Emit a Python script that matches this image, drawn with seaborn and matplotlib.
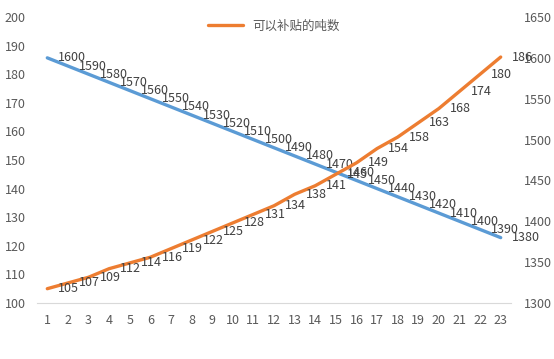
import seaborn as sns
import matplotlib.pyplot as plt
import pandas as pd

# DATA #
x = list(range(1, 24))
tons = [105, 107, 109, 112, 114, 116, 119, 122, 125, 128, 131, 134, 138, 141,
        145, 149, 154, 158, 163, 168, 174, 180, 186]
price = [1600, 1590, 1580, 1570, 1560, 1550, 1540, 1530, 1520, 1510, 1500, 1490,
         1480, 1470, 1460, 1450, 1440, 1430, 1420, 1410, 1400, 1390, 1380]
legend_label = '可以补贴的吨数'

df = pd.DataFrame({'x': x, 'tons': tons, 'price': price})

sns.set_style('white')
plt.rcParams['font.family'] = ['Noto Sans CJK SC', 'DejaVu Sans']

fig = plt.figure(figsize=(5.54, 3.59), dpi=100)
ax = fig.add_axes([37 / 554, 1 - 303 / 359, 474 / 554, 286 / 359])
ax2 = ax.twinx()

sns.lineplot(data=df, x='x', y='tons', ax=ax, color='#ED7D31', linewidth=2.4,
             label=legend_label)
sns.lineplot(data=df, x='x', y='price', ax=ax2, color='#5B9BD5', linewidth=2.4)

ax.set_xlim(0.5, 23.5)
ax.set_ylim(100, 200)
ax.set_yticks(range(100, 201, 10))
ax2.set_ylim(1300, 1650)
ax2.set_yticks(range(1300, 1651, 50))
ax.set_xticks(x)
ax.set_xlabel('')
ax.set_ylabel('')
ax2.set_ylabel('')

for a in (ax, ax2):
    for s in ['top', 'right', 'left']:
        a.spines[s].set_visible(False)
    a.spines['bottom'].set_visible(False)
    a.tick_params(length=0, colors='#595959', labelsize=9)
ax.spines['bottom'].set_visible(True)
ax.spines['bottom'].set_color('#D9D9D9')
ax.tick_params(axis='x', pad=8)
ax.tick_params(axis='y', pad=8)
ax2.tick_params(axis='y', pad=9)

# data labels, to the right of each point
for xi, v in zip(x, tons):
    ax.annotate(str(v), (xi, v), xytext=(8, 0), textcoords='offset points',
                ha='left', va='center', fontsize=9, color='#404040')
for xi, v in zip(x, price):
    ax2.annotate(str(v), (xi, v), xytext=(8, 0), textcoords='offset points',
                 ha='left', va='center', fontsize=9, color='#404040')

ax.legend(loc='upper center', bbox_to_anchor=(0.5, 1.03), frameon=False,
          fontsize=9, labelcolor='#595959', handlelength=2.8)
ax.set_zorder(ax2.get_zorder() + 1)
ax.patch.set_visible(False)

fig.savefig('out.png', dpi=100)
